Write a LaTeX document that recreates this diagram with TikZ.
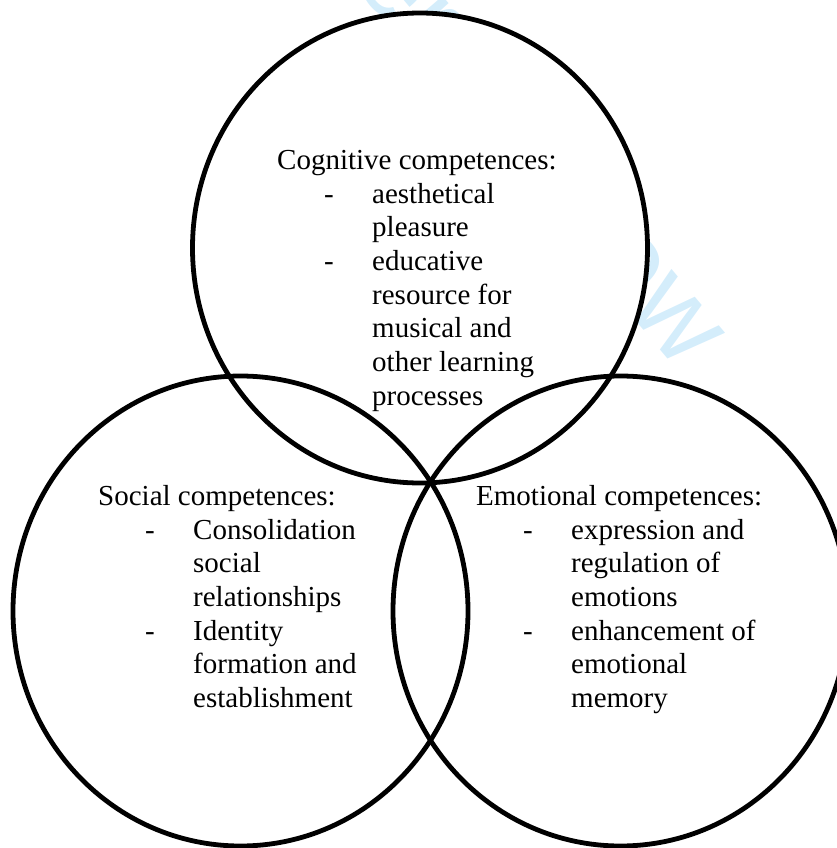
\documentclass[tikz,border=0pt]{standalone}
\usepackage{fontspec}
\setmainfont{Liberation Serif}
\newfontfamily\wmfont{Liberation Sans}
\usetikzlibrary{shapes.geometric}
\definecolor{wmark}{RGB}{212,237,251}
\newcommand{\dashitem}[1]{\hspace*{47pt}\makebox[48pt][l]{-}#1}
\newcommand{\moreitem}[1]{\hspace*{95pt}#1}

\begin{document}
\begin{tikzpicture}[x=1pt,y=-1pt,
    venn/.style={ellipse,draw,line width=4.8pt,minimum width=455pt,
      minimum height=470pt,inner sep=0pt},
    vennbg/.style={ellipse,fill=white,minimum width=455pt,
      minimum height=470pt,inner sep=0pt},
    block/.style={anchor=north west,align=left,inner sep=0pt,
      font=\fontsize{29}{33.7}\selectfont}]

  \clip (0,0) rectangle (837,848);

  % watermark, mostly hidden behind the circles
  \node[text=wmark,font=\wmfont\fontsize{115}{115}\selectfont,rotate=-50,
    anchor=base east,inner sep=0pt] (wm) at (679,372) {For Peer Review};

  \foreach \x/\y in {420/248,240.5/611,620.5/611}
    \node[vennbg] at (\x,\y) {};

  \node[venn] (cog) at (420,248) {};
  \node[venn] (soc) at (240.5,611) {};
  \node[venn] (emo) at (620.5,611) {};

  \node[block] (cogtext) at (277,150) {Cognitive competences:\\
    \dashitem{aesthetical}\\ \moreitem{pleasure}\\
    \dashitem{educative}\\ \moreitem{resource for}\\
    \moreitem{musical and}\\ \moreitem{other learning}\\
    \moreitem{processes}};
  \node[block] (soctext) at (98,485) {Social competences:\\
    \dashitem{Consolidation}\\ \moreitem{social}\\
    \moreitem{relationships}\\ \dashitem{Identity}\\
    \moreitem{formation and}\\ \moreitem{establishment}};
  \node[block] (emotext) at (476,485) {Emotional competences:\\
    \dashitem{expression and}\\ \moreitem{regulation of}\\
    \moreitem{emotions}\\ \dashitem{enhancement of}\\
    \moreitem{emotional}\\ \moreitem{memory}};
\end{tikzpicture}
\end{document}
